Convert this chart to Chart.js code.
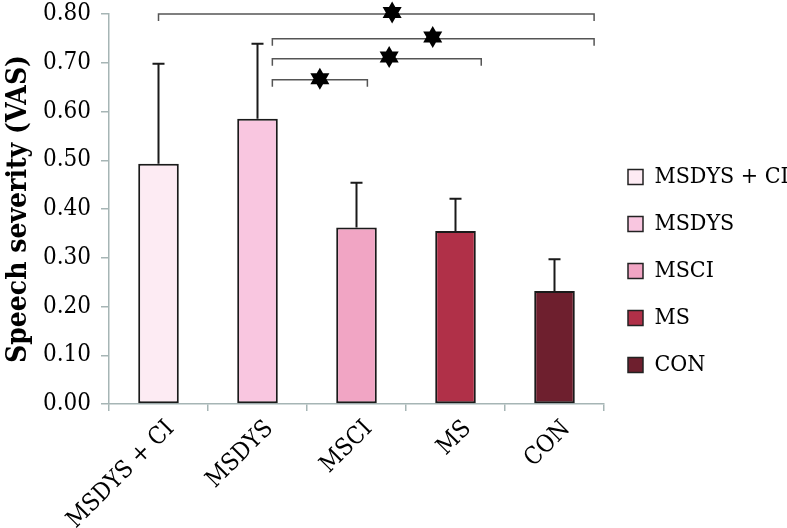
<!DOCTYPE html>
<html lang="en">
<head>
    <meta charset="UTF-8">
    <title>Speech severity (VAS)</title>
    <script src="https://cdn.jsdelivr.net/npm/chart.js"></script>
    <style>
        body {
            margin: 0;
            padding: 0;
            background: #ffffff;
        }
        .chart-box {
            width: 787px;
            height: 528px;
        }
    </style>
</head>
<body>
    <div class="chart-box">
        <canvas id="vasChart"></canvas>
    </div>

    <script>
        // groups and mean VAS scores with upper error (mean + SD)
        const groups = ['MSDYS + CI', 'MSDYS', 'MSCI', 'MS', 'CON'];
        const meanVAS = [0.493, 0.585, 0.362, 0.355, 0.232];
        const errorTop = [0.698, 0.739, 0.454, 0.421, 0.297];
        const groupColors = ['#fdebf3', '#f9c6e0', '#f1a5c4', '#b03048', '#6e1f2e'];
        const yTicks = [0, 0.1, 0.2, 0.3, 0.4, 0.5, 0.6, 0.7, 0.8];

        // significance brackets (category positions / value level) and star marks
        const bracketFrom = [0.0, 1.15, 1.15, 1.15];
        const bracketTo = [4.40, 4.40, 3.26, 2.11];
        const bracketLevel = [0.800, 0.749, 0.708, 0.665];
        const starX = [2.36, 2.77, 2.33, 1.63];
        const starY = [0.803, 0.753, 0.712, 0.667];

        const serif = "'DejaVu Serif Condensed', 'Liberation Serif', serif";

        function drawStar(ctx, cx, cy, r) {
            ctx.beginPath();
            for (let t = 0; t < 2; t++) {
                const start = t === 0 ? -Math.PI / 2 : Math.PI / 2;
                for (let k = 0; k < 3; k++) {
                    const a = start + k * 2 * Math.PI / 3;
                    const px = cx + r * Math.cos(a);
                    const py = cy + r * Math.sin(a);
                    if (k === 0) ctx.moveTo(px, py); else ctx.lineTo(px, py);
                }
                ctx.closePath();
            }
            ctx.fillStyle = '#000';
            ctx.fill('nonzero');
        }

        const extrasPlugin = {
            id: 'extras',
            afterDatasetsDraw(chart) {
                const ctx = chart.ctx;
                const x = chart.scales.x;
                const y = chart.scales.y;
                ctx.save();

                // error bars
                ctx.strokeStyle = '#1a1a1a';
                ctx.lineWidth = 2;
                errorTop.forEach((v, i) => {
                    const px = x.getPixelForValue(i);
                    const top = y.getPixelForValue(v);
                    const base = y.getPixelForValue(meanVAS[i]);
                    ctx.beginPath();
                    ctx.moveTo(px, base);
                    ctx.lineTo(px, top);
                    ctx.moveTo(px - 6, top);
                    ctx.lineTo(px + 6, top);
                    ctx.stroke();
                });

                // brackets
                ctx.strokeStyle = '#555';
                ctx.lineWidth = 1.5;
                bracketLevel.forEach((lv, i) => {
                    const x1 = x.getPixelForValue(bracketFrom[i]);
                    const x2 = x.getPixelForValue(bracketTo[i]);
                    const py = y.getPixelForValue(lv);
                    ctx.beginPath();
                    ctx.moveTo(x1, py + 7);
                    ctx.lineTo(x1, py);
                    ctx.lineTo(x2, py);
                    ctx.lineTo(x2, py + 7);
                    ctx.stroke();
                });

                // stars
                starX.forEach((sx, i) => {
                    drawStar(ctx, x.getPixelForValue(sx), y.getPixelForValue(starY[i]), 11);
                });

                ctx.restore();
            }
        };

        const ctx = document.getElementById('vasChart').getContext('2d');
        new Chart(ctx, {
            type: 'bar',
            data: {
                labels: groups,
                datasets: [{
                    label: 'Speech severity',
                    data: meanVAS,
                    backgroundColor: groupColors,
                    borderColor: '#1a1a1a',
                    borderWidth: 2,
                    borderSkipped: false,
                    barPercentage: 0.41,
                    categoryPercentage: 1
                }]
            },
            options: {
                responsive: true,
                maintainAspectRatio: false,
                animation: false,
                layout: { padding: { top: 14, left: 0, right: 0, bottom: 0 } },
                plugins: {
                    tooltip: { enabled: false },
                    legend: {
                        position: 'right',
                        maxWidth: 183,
                        labels: {
                            boxWidth: 15,
                            boxHeight: 15,
                            padding: 24,
                            color: '#000',
                            font: { family: serif, size: 23 },
                            generateLabels: () => groups.map((g, i) => ({
                                text: g,
                                fillStyle: groupColors[i],
                                strokeStyle: '#222',
                                lineWidth: 1.5,
                                fontColor: '#000',
                                hidden: false,
                                index: i
                            }))
                        }
                    }
                },
                scales: {
                    x: {
                        afterFit: (s) => { s.height = 124; },
                        border: { color: '#a6b5b5', width: 1.5 },
                        grid: {
                            drawOnChartArea: false,
                            drawTicks: true,
                            tickLength: 7,
                            color: '#a6b5b5',
                            lineWidth: 1.5
                        },
                        ticks: {
                            autoSkip: false,
                            minRotation: 45,
                            maxRotation: 45,
                            color: '#000',
                            padding: 4,
                            labelOffset: 12,
                            font: { family: serif, size: 24 }
                        }
                    },
                    y: {
                        min: 0,
                        max: 0.8,
                        afterFit: (s) => {
                            s.width = 109;
                            s.paddingTop = 0;
                            s.paddingBottom = 0;
                        },
                        afterBuildTicks: (s) => { s.ticks = yTicks.map(v => ({ value: v })); },
                        border: { color: '#a6b5b5', width: 1.5 },
                        grid: {
                            drawOnChartArea: false,
                            drawTicks: true,
                            tickLength: 8,
                            color: '#a6b5b5',
                            lineWidth: 1.5
                        },
                        ticks: {
                            color: '#000',
                            padding: 10,
                            font: { family: serif, size: 24 },
                            callback: (v) => Number(v).toFixed(2)
                        },
                        title: {
                            display: true,
                            text: 'Speech severity (VAS)',
                            color: '#000',
                            padding: { top: 2, bottom: 0 },
                            font: { family: serif, size: 28, weight: 'bold' }
                        }
                    }
                }
            },
            plugins: [extrasPlugin]
        });
    </script>
</body>
</html>
